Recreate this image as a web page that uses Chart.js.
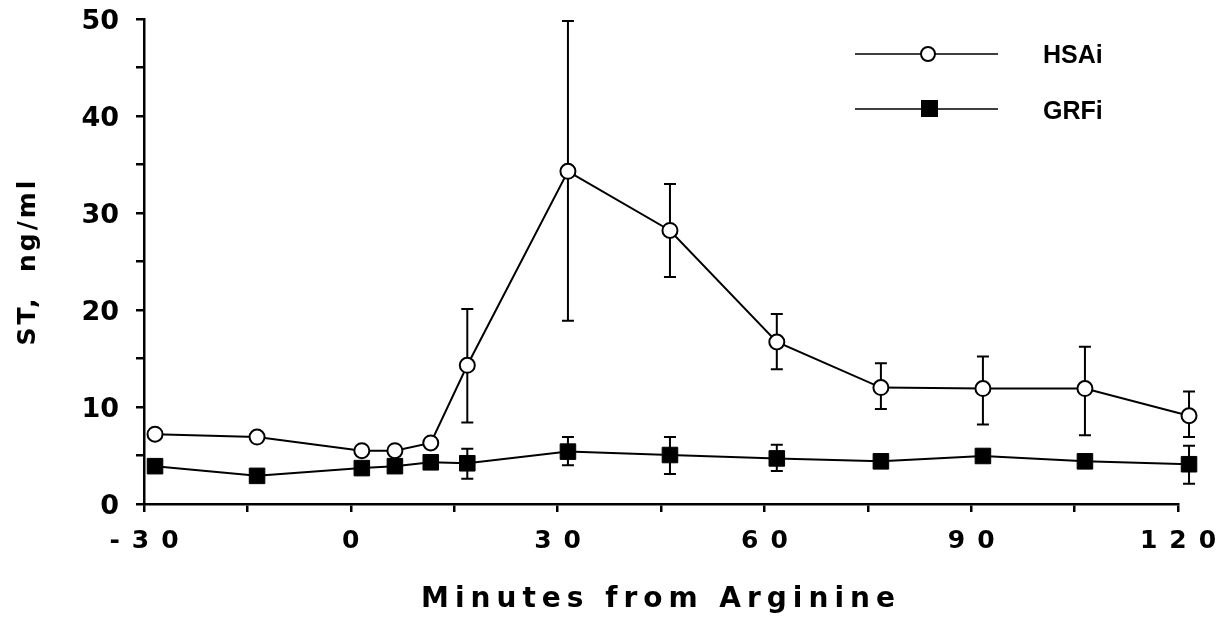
<!DOCTYPE html>
<html>
<head>
<meta charset="utf-8">
<title>ST, ng/ml - Minutes from Arginine</title>
<script src="https://cdn.jsdelivr.net/npm/chart.js@4.4.1/dist/chart.umd.min.js"></script>
<style>
  html, body { margin: 0; padding: 0; background: #fff; }
</style>
</head>
<body>
<canvas id="stChart" width="1224" height="624"></canvas>
<script>
// sampling times as plotted (minutes from arginine)
var minutes = [-28.4, -13.6, 1.6, 6.4, 11.6, 16.9, 31.5, 46.3, 61.8, 76.9, 91.7, 106.5, 121.6];

// HSAi, mean and error bar ends
var hsai     = [7.2, 6.9, 5.5, 5.5, 6.3, 14.3, 34.3, 28.2, 16.7, 12.0, 11.9, 11.9, 9.1];
var hsaiHigh = [null, null, null, null, null, 20.1, 49.8, 33.0, 19.6, 14.5, 15.2, 16.2, 11.6];
var hsaiLow  = [null, null, null, null, null, 8.4, 18.9, 23.4, 13.9, 9.8, 8.2, 7.1, 6.9];

// GRFi, mean and error bar ends
var grfi     = [3.9, 2.9, 3.7, 3.9, 4.3, 4.2, 5.4, 5.05, 4.7, 4.4, 4.95, 4.4, 4.1];
var grfiHigh = [null, null, null, null, null, 5.7, 6.9, 6.9, 6.1, null, null, null, 6.0];
var grfiLow  = [null, null, null, null, null, 2.6, 4.0, 3.1, 3.4, null, null, null, 2.1];

var xTickLabels = ['-30', '0', '30', '60', '90', '120'];
var yTickLabels = ['0', '10', '20', '30', '40', '50'];

function points(values) {
  return values.map(function (v, i) { return { x: minutes[i], y: v }; });
}

// vertical bars with caps, under the markers
var errorBars = {
  id: 'errorBars',
  beforeDatasetsDraw: function (chart) {
    var ctx = chart.ctx, xs = chart.scales.x, ys = chart.scales.y;
    ctx.save();
    ctx.strokeStyle = '#000';
    ctx.lineWidth = 2;
    chart.data.datasets.forEach(function (ds) {
      ds.errHigh.forEach(function (hi, i) {
        var lo = ds.errLow[i];
        if (hi == null) return;
        var px = xs.getPixelForValue(minutes[i]);
        var top = ys.getPixelForValue(hi), bot = ys.getPixelForValue(lo);
        ctx.beginPath();
        ctx.moveTo(px, top); ctx.lineTo(px, bot);
        ctx.moveTo(px - 6, top); ctx.lineTo(px + 6, top);
        ctx.moveTo(px - 6, bot); ctx.lineTo(px + 6, bot);
        ctx.stroke();
      });
    });
    // the last sample sits just past the 120 tick; let its marker be drawn
    chart._areaRight = chart.chartArea.right;
    chart.chartArea.right += 30;
    ctx.restore();
  },
  afterDatasetsDraw: function (chart) {
    chart.chartArea.right = chart._areaRight;
  }
};

// the scan's lettering is wide, so space out axis text a bit
var spacing = { x: { labels: '12px', title: '6px' }, y: { labels: '0px', title: '3px' } };
var letterSpacing = {
  id: 'letterSpacing',
  beforeDraw: function (chart) {
    Object.keys(spacing).forEach(function (id) {
      var scale = chart.scales[id];
      if (scale._spaced) return;
      scale._spaced = true;
      [['drawLabels', spacing[id].labels], ['drawTitle', spacing[id].title]].forEach(function (p) {
        var orig = scale[p[0]];
        scale[p[0]] = function () {
          this.ctx.save();
          this.ctx.letterSpacing = p[1];
          orig.apply(this, arguments);
          this.ctx.restore();
        };
      });
    });
  }
};

// legend in the upper right, drawn like the original key
var keyBox = {
  id: 'keyBox',
  afterDraw: function (chart) {
    var ctx = chart.ctx;
    ctx.save();
    ctx.strokeStyle = '#000';
    ctx.lineWidth = 1.5;
    ctx.beginPath();
    ctx.moveTo(855, 54); ctx.lineTo(998, 54);
    ctx.moveTo(855, 109); ctx.lineTo(998, 109);
    ctx.stroke();

    ctx.lineWidth = 2;
    ctx.fillStyle = '#fff';
    ctx.beginPath();
    ctx.arc(928, 54, 7, 0, Math.PI * 2);
    ctx.fill();
    ctx.stroke();

    ctx.fillStyle = '#000';
    ctx.fillRect(921, 100, 17, 17);

    ctx.font = 'bold 25px "Liberation Sans", Arial, sans-serif';
    ctx.textBaseline = 'middle';
    ctx.textAlign = 'left';
    ctx.fillText(chart.data.datasets[0].label, 1043, 56);
    ctx.fillText(chart.data.datasets[1].label, 1043, 112);
    ctx.restore();
  }
};

var ctx = document.getElementById('stChart').getContext('2d');
var stChart = new Chart(ctx, {
  type: 'line',
  data: {
    datasets: [{
      label: 'HSAi',
      data: points(hsai),
      errHigh: hsaiHigh,
      errLow: hsaiLow,
      borderColor: '#000',
      borderWidth: 2,
      backgroundColor: '#fff',
      pointStyle: 'circle',
      pointRadius: 7.5,
      pointBorderWidth: 2,
      pointBackgroundColor: '#fff',
      pointBorderColor: '#000',
      tension: 0,
      clip: false
    }, {
      label: 'GRFi',
      data: points(grfi),
      errHigh: grfiHigh,
      errLow: grfiLow,
      borderColor: '#000',
      borderWidth: 2,
      backgroundColor: '#000',
      pointStyle: 'rect',
      pointRadius: 11,
      pointBorderWidth: 1,
      pointBackgroundColor: '#000',
      pointBorderColor: '#000',
      tension: 0,
      clip: false
    }]
  },
  options: {
    responsive: false,
    animation: false,
    devicePixelRatio: 1,
    layout: { padding: { top: 19, right: 46, bottom: 0, left: 0 } },
    plugins: {
      legend: { display: false },
      tooltip: { enabled: false }
    },
    scales: {
      x: {
        type: 'linear',
        min: -30,
        max: 120,
        afterFit: function (scale) {
          scale.height = 120;
          scale.paddingLeft = 0;
          scale.paddingRight = 0;
        },
        border: { display: true, color: '#000', width: 2.5 },
        grid: { drawOnChartArea: false, color: '#000', lineWidth: 2.5, tickLength: 8 },
        ticks: {
          stepSize: 15,
          autoSkip: false,
          maxRotation: 0,
          padding: 14,
          labelOffset: 6,
          color: '#000',
          font: { family: '"DejaVu Sans", sans-serif', weight: 'bold', size: 25 },
          callback: function (v) {
            return xTickLabels.indexOf(String(v)) >= 0 ? String(v) : '';
          }
        },
        title: {
          display: true,
          text: 'Minutes from Arginine',
          color: '#000',
          padding: { top: 0, bottom: 7 },
          font: { family: '"DejaVu Sans", sans-serif', weight: 'bold', size: 28 }
        }
      },
      y: {
        min: 0,
        max: 50,
        afterFit: function (scale) {
          scale.width = 144;
          scale.paddingTop = 0;
          scale.paddingBottom = 0;
        },
        border: { display: true, color: '#000', width: 2.5 },
        grid: { drawOnChartArea: false, color: '#000', lineWidth: 2.5, tickLength: 8 },
        ticks: {
          stepSize: 5,
          padding: 17,
          labelOffset: 3,
          color: '#000',
          font: { family: '"DejaVu Sans", sans-serif', weight: 'bold', size: 27 },
          callback: function (v) {
            return yTickLabels.indexOf(String(v)) >= 0 ? String(v) : '';
          }
        },
        title: {
          display: true,
          text: 'ST,  ng/ml',
          color: '#000',
          padding: { top: 13, bottom: 0 },
          font: { family: '"DejaVu Sans", sans-serif', weight: 'bold', size: 25 }
        }
      }
    }
  },
  plugins: [errorBars, letterSpacing, keyBox]
});
</script>
</body>
</html>
